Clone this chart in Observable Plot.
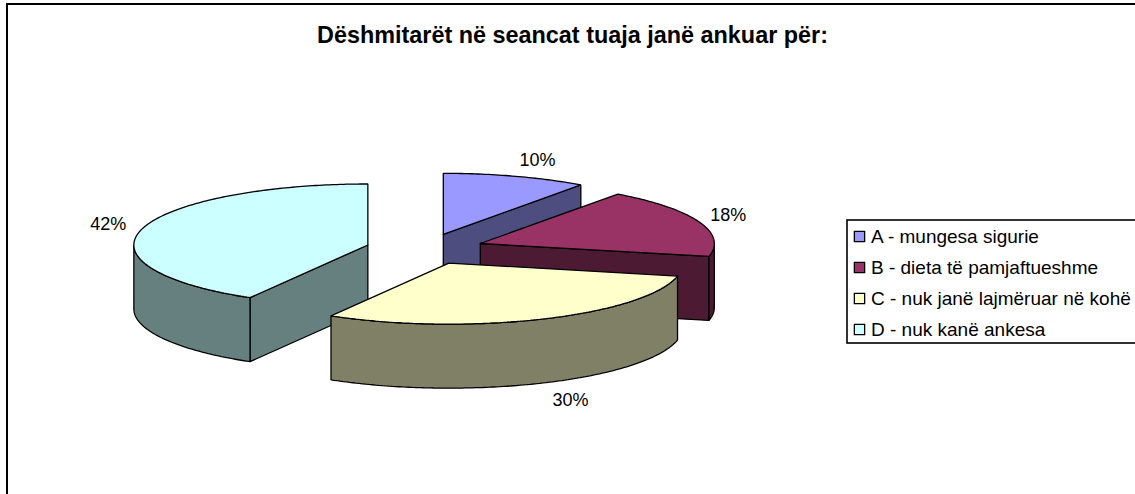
<!DOCTYPE html>
<html><head><meta charset="utf-8">
<script src="https://cdn.jsdelivr.net/npm/d3@7"></script>
<script src="https://cdn.jsdelivr.net/npm/@observablehq/plot@0.6"></script>
<style>html,body{margin:0;padding:0;background:#fff}svg{display:block}</style>
</head><body><div id="chart"></div>
<script>
const titleText = "Dëshmitarët në seancat tuaja janë ankuar për:";
const categories = ["A - mungesa sigurie","B - dieta të pamjaftueshme","C - nuk janë lajmëruar në kohë","D - nuk kanë ankesa"];
const shares = [10.0, 18.4, 30.0, 41.6];
const topColors = ["#9999FF","#993366","#FFFFCC","#CCFFFF"];
const wallColors = ["#4D4D80","#4D1A33","#808066","#668080"];

const W=1135,H=494, cx=424.5, cy=248.5, rx=234, ry=61, depthPx=64, explode=0.253;
const depth=depthPx/ry, FONT="Liberation Sans, Arial, sans-serif";
let cum=0;
const slices=shares.map((s,i)=>{const a0=cum/100*2*Math.PI;cum+=s;const a1=cum/100*2*Math.PI;const m=(a0+a1)/2;
  return {i,a0,a1,m,ox:explode*Math.sin(m),oy:-explode*Math.cos(m)};});
const u=(s,a)=>[s.ox+Math.sin(a),s.oy-Math.cos(a)];
const arc=(s,a0,a1,d=0)=>{const n=Math.max(2,Math.ceil(Math.abs(a1-a0)/0.015));return d3.range(n+1).map(k=>{const a=a0+(a1-a0)*k/n;const [x,y]=u(s,a);return [x,y+d];});};
const poly=(pts,fill)=>Plot.line([...pts,pts[0]],{x:d=>d[0],y:d=>d[1],fill,stroke:"#000",strokeWidth:1.3,strokeLinejoin:"miter",curve:"linear"});
const topFace=s=>poly([[s.ox,s.oy],...arc(s,s.a0,s.a1)],topColors[s.i]);
const radial=(s,a)=>{const p=u(s,a);return poly([[s.ox,s.oy],p,[p[0],p[1]+depth],[s.ox,s.oy+depth]],wallColors[s.i]);};
const outer=(s,a0,a1)=>poly([...arc(s,a0,a1),...arc(s,a1,a0,depth)],wallColors[s.i]);
const [A,B,C,D]=slices;
const d90=Math.PI/2,d270=3*Math.PI/2;
const pieMarks=[
  radial(A,A.a1),topFace(A),
  radial(B,B.a1),outer(B,d90,B.a1),topFace(B),
  radial(D,D.a0),outer(D,D.a0,d270),topFace(D),
  outer(C,C.a0,C.a1),topFace(C)
];
const labels=slices.map(s=>{const sn=Math.sin(s.m),cs=Math.cos(s.m);const p=u(s,s.m);
  const a=(sn>0?25:32)+(sn>0?51:43)*cs*cs,b=cs<0?19:17;
  return {x:p[0]+sn*a/rx,y:p[1]-cs*b/ry+(cs<0?depth:0),t:Math.round(shares[s.i])+"%"};});
const rowY=[236,267,298,329], swX=859, txX=870.5;
const legendMarks=categories.flatMap((c,i)=>[
  Plot.dot([c],{frameAnchor:"top-left",dx:swX,dy:rowY[i],symbol:"square",r:5.8,fill:topColors[i],stroke:"#000",strokeWidth:1.3}),
  Plot.text([c],{text:d=>d,frameAnchor:"top-left",dx:txX,dy:rowY[i],textAnchor:"start",lineAnchor:"middle",fontSize:19,fontFamily:FONT,fill:"#000"})
]);
const chart=Plot.plot({width:W,height:H,margin:0,
  style:{background:"#fff",fontFamily:FONT},
  x:{domain:[-cx/rx,(W-cx)/rx],range:[0,W],axis:null},
  y:{domain:[-cy/ry,(H-cy)/ry],range:[0,H],axis:null},
  marks:[
    Plot.frame({stroke:"#000",strokeWidth:2,insetLeft:6.5,insetTop:3.5,insetRight:-5,insetBottom:-5}),
    Plot.text([titleText],{text:d=>d,frameAnchor:"top",dx:4.5,dy:35,lineAnchor:"middle",fontSize:23.4,fontWeight:"bold",fontFamily:FONT,fill:"#000"}),
    ...pieMarks,
    Plot.text(labels,{x:"x",y:"y",text:"t",fontSize:18,fontFamily:FONT,fill:"#000"}),
    Plot.frame({stroke:"#000",strokeWidth:1.6,fill:"#fff",insetLeft:846.5,insetTop:219.5,insetBottom:H-342.5,insetRight:-5}),
    ...legendMarks
  ]});
document.getElementById("chart").append(chart);
</script></body></html>
